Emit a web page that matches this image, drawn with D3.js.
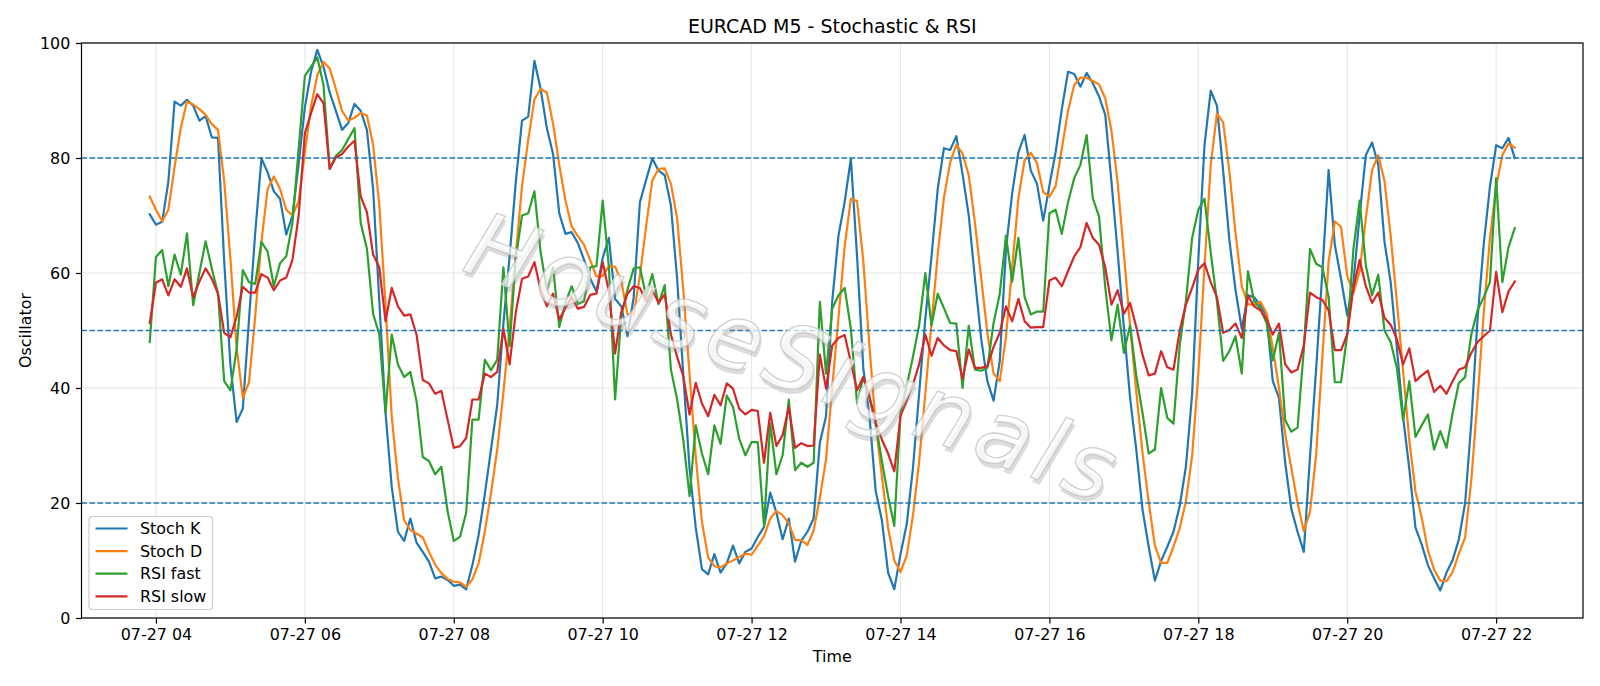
<!DOCTYPE html>
<html><head><meta charset="utf-8">
<script src="https://cdn.jsdelivr.net/npm/d3@7/dist/d3.min.js"></script>
<style>body{margin:0;background:#fff} svg text{font-family:"DejaVu Sans",sans-serif}</style>
</head><body><svg id="chart" width="1600" height="686"></svg>
<script>
// ---- data (5-minute bars, 07-27 03:55 .. 22:15) ----
const startTime = "2025-07-27 03:55";
const stepMinutes = 5;
const seriesNames = ["Stoch K", "Stoch D", "RSI fast", "RSI slow"];
const stochK = [
70.2,68.4,68.9,75.9,89.8,89.1,90.1,89.1,86.5,87.3,
83.6,83.5,62,44,34.1,36.4,52,67,79.9,77.5,
74.2,72.9,66.7,70,79,88.8,95,98.8,95.9,91.4,
88.2,84.9,86.1,89.4,88.2,84.9,74.6,55.1,35.7,22.8,
15,13.4,17.3,13.1,11.5,9.8,6.9,7.2,6.6,5.6,
5.8,5,9.2,14.4,21.5,29.3,37,51.2,62.9,75.9,
86.5,87.2,96.9,92,85.2,80.7,70.4,66.8,67.1,65.2,
62.3,59,56.8,62.6,66.1,55.5,54.2,49,55.8,72.3,
76.2,79.9,77.8,77,71.7,59,42.2,26,15.7,8.5,
7.6,11.1,7.9,9.5,12.6,9.5,11.5,12.1,14.1,15.8,
21.8,18.3,13.7,17.3,9.8,13.4,15,17.3,30.5,35.1,
55.1,66.5,72.3,79.9,62.9,43.5,35.1,22.1,17,7.9,
5,11.1,16.3,26,39,52,62.9,74.6,81.7,81.4,
83.8,77.2,70,59,48.6,41.2,37.8,44.7,64.2,73.9,
81,84,77.8,75.5,69.1,75.2,81,88.5,95,94.6,
92.4,94.8,93,90.7,87.5,75.9,63.6,50.6,38.3,29.3,
18.9,12.4,6.5,9.9,12.4,15,19.5,26.3,38.9,62.3,
82.3,91.7,89.1,77.8,65.8,57,50.3,56.1,55.8,54.4,
52.6,41.2,38.3,27,18.9,15,11.5,28,43.5,60.3,
77.9,64.9,59,52.6,58.4,70,80.5,82.7,78.8,65.5,
58.4,47,35,26,15.7,12.8,9.2,6.9,4.8,7.9,
10.1,13.7,20,34,52,65,75,82.2,81.7,83.5,
80];
const stochD = [
73.3,71,69,71,78.4,85.2,89.8,89.3,88.5,87.5,
85.9,84.9,76,62.5,47,38.3,41,52.5,65.5,74.6,
76.8,74.6,71,70,72.5,81,89,94.4,96.7,95.6,
92,88.2,86.5,87,87.8,87.4,82.3,71.8,54.5,35,
24.3,17,15.3,14.7,14,11.5,9.3,7.8,6.8,6.3,
6.2,5.4,6.7,9.5,15,21.7,29.3,39.2,50.4,63.3,
75.1,83.2,90.2,92,91.4,86,78.8,72.6,68.1,66.4,
64.9,62.2,59.4,59.5,61.2,61.1,58.6,52.8,52.8,59.5,
68.1,76.1,78.1,78.2,75.5,69.5,57,42.4,28,16.7,
10.5,9,8.8,9.5,10,10.6,11.2,11,12.6,14.2,
17.3,18.6,17.9,16.4,13.6,13.5,12.7,15.2,20.9,27.6,
40.2,52.2,64.6,72.9,72.5,62.1,47.2,33.6,24.7,15.7,
10,8,10.8,17.8,27.1,39,51.3,63.2,73.1,79.2,
82.3,80.8,77,68.7,59.2,49.6,42.5,41.2,48.9,60.9,
73,79.6,80.9,79.1,74.1,73.3,75.1,81.6,88.2,92.7,
94,93.9,93.4,92.8,90.4,84.7,75.7,63.4,50.8,39.4,
28.8,20.2,12.6,9.6,9.6,12.4,15.6,20.3,28.2,42.5,
61.2,78.8,87.7,86.2,77.7,66.9,57.7,54.6,54.4,55,
53,47,40,32,26,20,15.1,18.4,28.5,45.5,
62,69,68,59.5,56.5,60.3,69.5,77.9,80.5,76,
66.5,55,43,31,22,17.5,11.8,8.4,6.5,6.4,
8,11.2,14,24,38,53,66,75,80.5,82.5,
81.8];
const rsiFast = [
48,62.8,64,57.7,63.2,59.7,66.9,54.4,60,65.5,
60.8,56.4,41.2,39.6,46.7,60.5,58.4,58.1,65.4,63.7,
57.7,61.7,62.9,68.7,81.7,94.3,95.9,97.5,92.7,78.1,
80.4,81.4,83.3,85.2,68.7,64.2,52.9,49.3,35.7,49.3,
44.1,41.9,42.8,37.7,28,27.3,25,26.3,18.6,13.4,
14.1,18.3,34.5,34.5,44.9,43.1,44.9,61,47.3,62.6,
70,70.4,74.2,63.6,57.1,61,50.6,54.8,57.7,54.6,
55.1,61,61.2,72.6,61,38,52.6,57.1,60.8,61,
55.9,59.8,54.6,57.9,43.2,38,30.9,21.2,33.5,28.6,
25,33.5,30.3,38.7,36.7,31.2,28.3,30.6,30.6,16,
33.8,25,28.3,38,25.7,27,26.3,27,55,42.5,
53.8,56.1,57.4,50.3,37.3,41.9,38.3,33.8,27.3,21.2,
16,35.7,40.3,45.4,50.9,60,50.9,56.4,53.9,51.3,
51.2,40,50.8,43.2,43,43.5,51.3,56.4,66.5,58.5,
66.1,55.8,52.8,53.3,53.3,70.4,71,66.8,72.3,76.5,
78.8,84,73,69.8,57.5,48.3,54.5,46.1,50.9,42.2,
35.7,28.6,29.3,40,34.8,33.8,47.4,55.1,66.1,71,
72.9,63.6,55.1,44.7,46.4,49,42.5,60.3,55.1,53.8,
51.3,44.8,49.6,34.4,32.4,33.1,46.7,64.2,61.6,61,
55.8,41,41,49.3,64.2,72.6,61.3,56.1,59.7,50,
48,43.5,34.4,41.2,31.5,33.5,35.4,29.3,32.5,29.6,
35.7,40.9,41.9,49.3,53.5,55.8,58.4,76.5,58.4,64.5,
67.8];
const rsiSlow = [
51.3,58.3,58.9,56.1,58.9,57.6,60.8,55.8,58.5,60.8,
59,56.4,49.6,48.8,52.4,57.6,56.6,56.6,59.8,59.2,
57,58.7,59.2,62.3,70,84.3,87.8,91.1,89.5,78.1,
80.1,80.7,82,83,73.3,70.6,63.2,61,51.6,57.4,
54.2,52.6,52.8,49.3,41.4,40.8,39,39.5,34.5,29.6,
29.9,31.3,38,38,42.5,41.9,42.8,50.3,44.1,53.2,
59,59.4,61.9,57.1,54.2,56.4,51.9,53.9,55.8,53.8,
54.1,56.2,56.4,61.9,56.8,46,53.2,56.4,57.7,57.4,
55.1,57.1,54.8,56.3,49.3,45.4,42,35.4,40.9,37.3,
35.1,38.8,37,40.8,39.9,36.4,35.4,36.2,36,27,
35.7,29.9,31.8,36.7,29.6,30.4,29.9,30,45.8,39.9,
47.4,48.7,49.2,44.5,39.6,41.9,38.5,34,31,28.6,
25.5,35.1,37.8,40.6,44.1,49.3,45.6,48.7,47.4,46.6,
46.4,41.6,46.7,43.5,43.5,43.8,47.1,49.6,54.2,51.6,
55.5,51.6,50.5,50.6,50.6,58.7,59.2,57.7,60.3,62.9,
64.5,68.7,66.1,64.9,61,54.5,57,52.9,54.8,50.6,
45.8,42.2,42.5,46.4,43.6,43.2,50,54.5,57.4,60.6,
61.7,58.4,55.8,49.6,50.1,51.2,48.7,56.1,54.2,53.5,
52,49.3,51.2,44.1,42.7,43.2,47.4,56.6,55.8,55.3,
53.5,46.6,46.6,49.3,57.4,62.3,57.7,54.8,56.6,52.2,
51,48.5,44.1,46.9,41.2,42.2,43,39.3,40.4,39,
41.2,43.2,43.6,46.1,48,49,50,60.2,53.2,56.8,
58.5];
const levels = [80, 50, 20];
const yTicks = [0, 20, 40, 60, 80, 100];
const colors = ["#1f77b4", "#ff7f0e", "#2ca02c", "#d62728"];
const titleText = "EURCAD M5 - Stochastic & RSI";
const xLabel = "Time", yLabel = "Oscillator";
const watermark = "HouseSignals";

// ---- chart ----
const svg = d3.select("#chart");
const L = 81.5, R = 1583, T = 43, B = 618;
const t0 = d3.timeParse("%Y-%m-%d %H:%M")(startTime);
const times = stochK.map((_, i) => d3.timeMinute.offset(t0, i * stepMinutes));
const tA = times[0], tZ = times[times.length - 1], span = tZ - tA;
const x = d3.scaleTime().domain([new Date(+tA - 0.05 * span), new Date(+tZ + 0.05 * span)]).range([L, R]);
const y = d3.scaleLinear().domain([0, 100]).range([B, T]);
const xTicks = d3.timeHour.every(2).range(new Date(+tA - 0.05 * span), new Date(+tZ + 0.05 * span));
const fmt = d3.timeFormat("%m-%d %H");

svg.append("rect").attr("width", 1600).attr("height", 686).attr("fill", "#fff");
const defs = svg.append("defs");
defs.append("clipPath").attr("id", "clip").append("rect").attr("x", L).attr("y", T).attr("width", R - L).attr("height", B - T);

// grid
const grid = svg.append("g").attr("stroke", "#e6e6e6").attr("stroke-width", 1.1);
grid.selectAll(".gx").data(xTicks).join("line").attr("x1", d => x(d)).attr("x2", d => x(d)).attr("y1", T).attr("y2", B);
grid.selectAll(".gy").data(yTicks).join("line").attr("x1", L).attr("x2", R).attr("y1", d => y(d)).attr("y2", d => y(d));

// series
const all = [stochK, stochD, rsiFast, rsiSlow];
const line = d3.line().x((d, i) => x(times[i])).y(d => y(d));
const plot = svg.append("g").attr("clip-path", "url(#clip)");
all.forEach((s, k) => {
  plot.append("path").datum(s).attr("d", line).attr("fill", "none")
    .attr("stroke", colors[k]).attr("stroke-width", 2.2).attr("stroke-linejoin", "round").attr("stroke-linecap", "square");
});
// level lines
plot.selectAll(".lvl").data(levels).join("line")
  .attr("x1", L).attr("x2", R).attr("y1", d => y(d)).attr("y2", d => y(d))
  .attr("stroke", "#1f77b4").attr("stroke-width", 1.5).attr("stroke-dasharray", "5.6,2.4");

// watermark
const wm = svg.append("g").attr("transform", "translate(795,358) rotate(20)");
const wmAttrs = t => t.attr("text-anchor", "middle").attr("dominant-baseline", "central")
  .attr("font-size", 90).attr("font-style", "italic").attr("letter-spacing", 7).text(watermark);
wm.append("text").attr("x", 3).attr("y", 4).call(wmAttrs).attr("fill", "#8a8a8a").attr("fill-opacity", 0.3);
wm.append("text").attr("x", 0).attr("y", 0).call(wmAttrs)
  .attr("fill", "#ffffff").attr("fill-opacity", 0.7).attr("stroke", "#c4c4c4").attr("stroke-width", 1.3).attr("stroke-opacity", 0.8);

// axes
const xAxis = d3.axisBottom(x).tickValues(xTicks).tickFormat(fmt).tickSize(5.6).tickPadding(5.6);
const gx = svg.append("g").attr("transform", `translate(0,${B})`).call(xAxis);
const yAxis = d3.axisLeft(y).tickValues(yTicks).tickSize(5.6).tickPadding(5.6);
const gy = svg.append("g").attr("transform", `translate(${L},0)`).call(yAxis);
[gx, gy].forEach(g => {
  g.select(".domain").remove();
  g.selectAll(".tick line").attr("stroke", "#000").attr("stroke-width", 1.2);
  g.selectAll(".tick text").attr("fill", "#000").attr("font-size", 15.9).attr("font-family", "DejaVu Sans");
});
// spines
svg.append("rect").attr("x", L).attr("y", T).attr("width", R - L).attr("height", B - T)
  .attr("fill", "none").attr("stroke", "#000").attr("stroke-width", 1.2);

// labels
svg.append("text").attr("x", (L + R) / 2).attr("y", 33).attr("text-anchor", "middle").attr("font-size", 19).text(titleText);
svg.append("text").attr("x", (L + R) / 2).attr("y", 661.5).attr("text-anchor", "middle").attr("font-size", 15.9).text(xLabel);
svg.append("text").attr("transform", `translate(30.5,${(T + B) / 2}) rotate(-90)`).attr("text-anchor", "middle").attr("font-size", 15.9).text(yLabel);

// legend
const lg = svg.append("g").attr("transform", "translate(89,516.5)");
lg.append("rect").attr("width", 123.5).attr("height", 93).attr("rx", 3.5).attr("fill", "#fff").attr("fill-opacity", 0.8).attr("stroke", "#cccccc").attr("stroke-width", 1.2);
seriesNames.forEach((n, k) => {
  const yy = 12 + k * 22.6;
  lg.append("line").attr("x1", 6.5).attr("x2", 38.5).attr("y1", yy).attr("y2", yy).attr("stroke", colors[k]).attr("stroke-width", 2.2);
  lg.append("text").attr("x", 51).attr("y", yy).attr("dominant-baseline", "central").attr("font-size", 15.9).text(n);
});
</script></body></html>
